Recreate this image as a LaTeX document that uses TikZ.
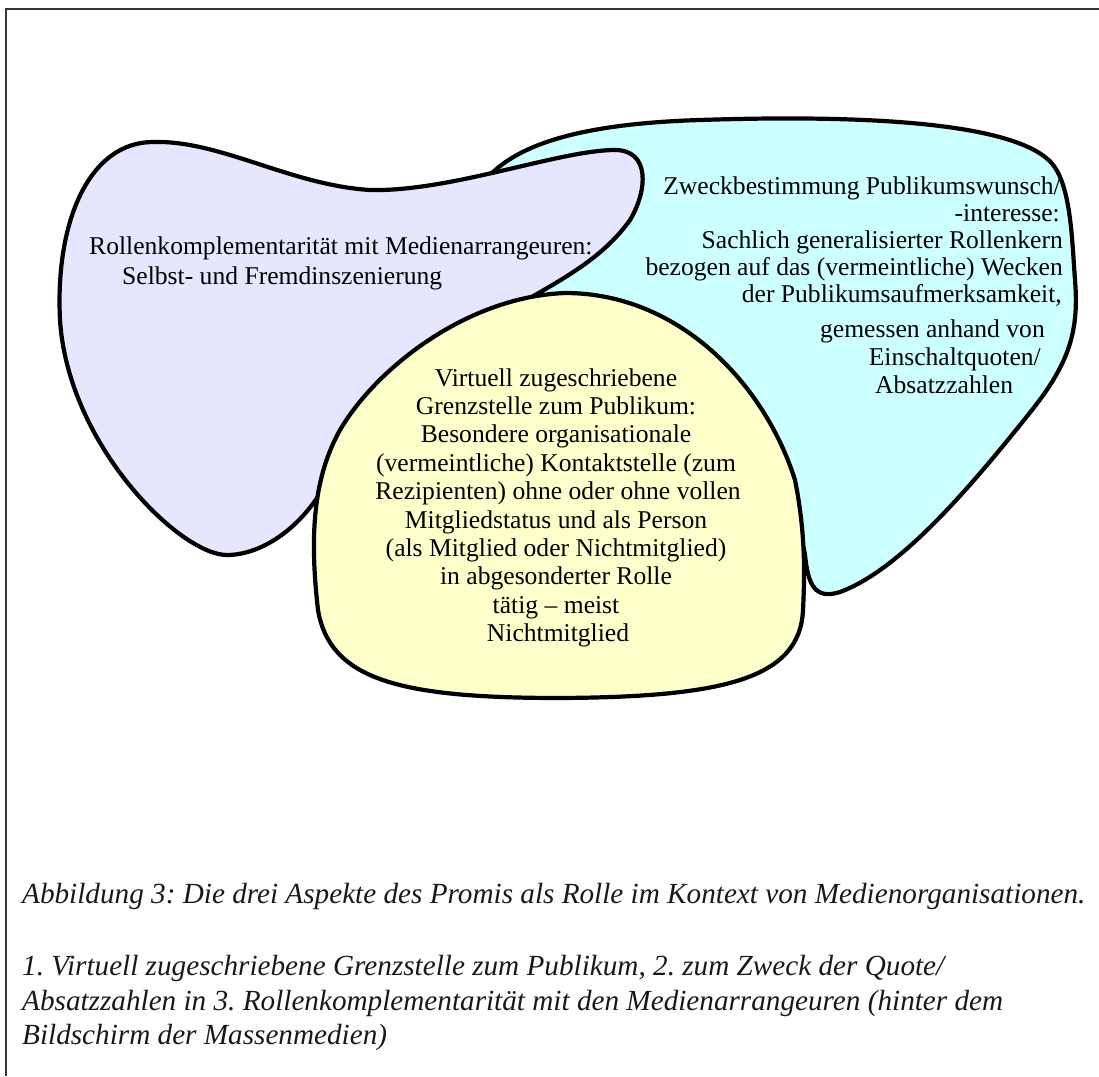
\documentclass[tikz,border=0pt]{standalone}
\usepackage{fontspec}
\setmainfont{Liberation Serif}
\definecolor{lavfill}{HTML}{E6E6FF}
\definecolor{cyfill}{HTML}{CCFFFF}
\definecolor{yelfill}{HTML}{FFFFCC}
\begin{document}
\frenchspacing
\begin{tikzpicture}[x=1pt,y=-1pt,
  blob/.style={draw=black, line width=4.2pt, line join=round},
  txt/.style={inner sep=0pt, font=\fontsize{25.6}{28.4}\selectfont, text=black},
  captxt/.style={inner sep=0pt, font=\fontsize{29.2}{34.5}\selectfont\itshape, text=black!90}]
\useasboundingbox (0,0) rectangle (1099,1076);
% page frame (left and top edges)
\draw[line width=1.3pt, draw=black!80] (6,1076) -- (6,9) -- (1099,9);
% cyan blob (purpose)
\filldraw[blob, fill=cyfill]
  (465,220) .. controls (480,160) and (540,125) .. (700,120)
  .. controls (850,115) and (1020,120) .. (1054,166)
  .. controls (1071,190) and (1072,240) .. (1075,280)
  .. controls (1079,330) and (1070,362) .. (1032,410)
  .. controls (970,488) and (900,570) .. (840,592)
  .. controls (815,600) and (808,585) .. (805,555)
  .. controls (796,500) and (700,340) .. (600,320)
  .. controls (520,320) and (460,290) .. (465,220) -- cycle;
% lavender blob (role complementarity)
\filldraw[blob, fill=lavfill]
  (153,142) .. controls (220,140) and (290,185) .. (370,190)
  .. controls (450,192) and (560,150) .. (615,150)
  .. controls (650,150) and (648,190) .. (630,220)
  .. controls (605,255) and (570,275) .. (530,298)
  .. controls (480,322) and (370,440) .. (325,485)
  .. controls (300,530) and (260,555) .. (227,555)
  .. controls (180,555) and (68,445) .. (60,320)
  .. controls (55,220) and (90,142) .. (153,142) -- cycle;
% yellow blob (boundary position)
\filldraw[blob, fill=yelfill]
  (565,293) .. controls (680,293) and (765,385) .. (795,480)
  .. controls (805,530) and (805,570) .. (803,610)
  .. controls (800,680) and (720,697) .. (560,698)
  .. controls (400,698) and (330,680) .. (318,610)
  .. controls (310,540) and (312,480) .. (340,430)
  .. controls (375,370) and (465,297) .. (565,293) -- cycle;
% lavender text
\node[txt, anchor=base west] (p1) at (89,254) {Rollenkomplementarität mit Medienarrangeuren:};
\node[txt, anchor=base west] (p2) at (122,284) {Selbst- und Fremdinszenierung};
% cyan text
\node[txt, anchor=base east] (c1) at (1061,194) {Zweckbestimmung Publikumswunsch/};
\node[txt, anchor=base east] (c2) at (1060,221) {-interesse:};
\node[txt, anchor=base east] (c3) at (1063,248) {Sachlich generalisierter Rollenkern};
\node[txt, anchor=base east] (c4) at (1063,275) {bezogen auf das (vermeintliche) Wecken};
\node[txt, anchor=base east] (c5) at (1062,302) {der Publikumsaufmerksamkeit,};
\node[txt, anchor=base east] (c6) at (1045,337) {gemessen anhand von};
\node[txt, anchor=base east] (c7) at (1041,365) {Einschaltquoten/};
\node[txt, anchor=base west] (c8) at (875,393) {Absatzzahlen};
% yellow text
\node[txt, anchor=base] (y1) at (556,386) {Virtuell zugeschriebene};
\node[txt, anchor=base] (y2) at (556,414.4) {Grenzstelle zum Publikum:};
\node[txt, anchor=base] (y3) at (556,442.8) {Besondere organisationale};
\node[txt, anchor=base] (y4) at (556,471.2) {(vermeintliche) Kontaktstelle (zum};
\node[txt, anchor=base] (y5) at (558,499.6) {Rezipienten) ohne oder ohne vollen};
\node[txt, anchor=base] (y6) at (556,528) {Mitgliedstatus und als Person};
\node[txt, anchor=base] (y7) at (556,556.4) {(als Mitglied oder Nichtmitglied)};
\node[txt, anchor=base] (y8) at (556,584.8) {in abgesonderter Rolle};
\node[txt, anchor=base] (y9) at (556,613.2) {tätig – meist};
\node[txt, anchor=base] (y10) at (558,641.6) {Nichtmitglied};
% caption
\node[captxt, anchor=base west] (k1) at (22,903) {Abbildung 3: Die drei Aspekte des Promis als Rolle im Kontext von Medienorganisationen.};
\node[captxt, anchor=base west] (k2) at (22,975) {1. Virtuell zugeschriebene Grenzstelle zum Publikum, 2. zum Zweck der Quote/};
\node[captxt, anchor=base west] (k3) at (22,1010) {Absatzzahlen in 3. Rollenkomplementarität mit den Medienarrangeuren (hinter dem};
\node[captxt, anchor=base west] (k4) at (22,1044) {Bildschirm der Massenmedien)};
\end{tikzpicture}
\end{document}
